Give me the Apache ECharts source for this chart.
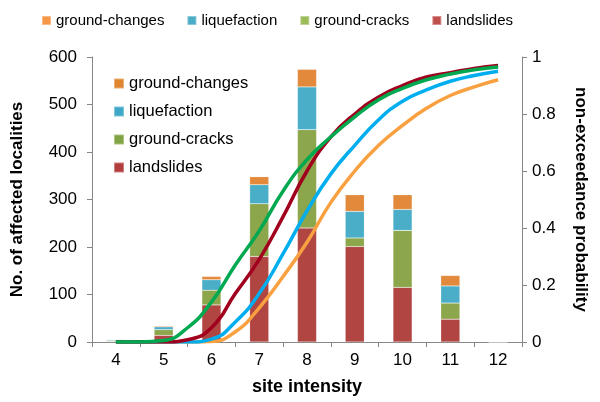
<!DOCTYPE html>
<html><head><meta charset="utf-8">
<script src="https://cdn.jsdelivr.net/npm/echarts@6/dist/echarts.min.js"></script>
<style>html,body{margin:0;padding:0;background:#fff}#c{width:600px;height:402px}</style>
</head><body><div id="c"></div>
<script>
var categories = ['4','5','6','7','8','9','10','11','12'];
var landslides   = [1, 14, 78, 180, 240, 201, 115, 48, 0];
var groundCracks = [2, 12, 31, 111, 207, 18, 120, 34, 0];
var liquefaction = [2, 6, 22, 40, 90, 56, 44, 36, 0];
var groundChanges= [0, 2, 7, 17, 37, 35, 31, 22, 0];

var curveX      = [4, 4.5, 5, 5.5, 6, 6.5, 7, 7.5, 8, 8.5, 9, 9.5, 10, 10.5, 11, 11.5, 12];
var cdfCracks   = [0, 0, 0.005, 0.05, 0.14, 0.27, 0.39, 0.53, 0.64, 0.72, 0.79, 0.85, 0.89, 0.92, 0.94, 0.955, 0.965];
var cdfSlides   = [0, 0, 0, 0.008, 0.05, 0.17, 0.29, 0.44, 0.60, 0.72, 0.80, 0.86, 0.90, 0.93, 0.945, 0.96, 0.97];
var cdfLiq      = [0, 0, 0, 0, 0.01, 0.07, 0.17, 0.31, 0.46, 0.59, 0.69, 0.78, 0.845, 0.885, 0.915, 0.935, 0.95];
var cdfChanges  = [0, 0, 0, 0, 0.002, 0.036, 0.12, 0.23, 0.35, 0.49, 0.60, 0.69, 0.76, 0.82, 0.865, 0.895, 0.92];

var leftTicks = ['0','100','200','300','400','500','600'];
var rightTicks = ['0','0.2','0.4','0.6','0.8','1'];

function pts(ys){ return curveX.map(function(x,i){ return [x, ys[i]]; }); }

var font = 'Liberation Sans, Arial, sans-serif';
var barCol = {ls:'#b04542', gc:'#8ca64c', lq:'#4aaec9', ch:'#e3893b'};
var axisGray = '#868686';

var chart = echarts.init(document.getElementById('c'), null, {renderer:'canvas'});
function barSeries(name, data, color){
  return {name:name, type:'bar', stack:'s', xAxisIndex:0, yAxisIndex:0, data:data,
    barWidth:'40%', itemStyle:{color:color, borderColor:'rgba(255,255,255,0.35)', borderWidth:0.5}, z:2};
}
function lineSeries(name, ys, color){
  return {name:name, type:'line', xAxisIndex:1, yAxisIndex:1, data:pts(ys), smooth:0.5,
    showSymbol:false, symbol:'none', lineStyle:{color:color, width:3.5}, z:5, silent:true};
}
chart.setOption({
  animation:false,
  textStyle:{fontFamily:font},
  grid:{left:92, right:78, top:57, bottom:60, containLabel:false, outerBoundsMode:'none'},
  legend:[
    {top:8, left:36, itemWidth:9, itemHeight:9, itemGap:22, icon:'rect',
     textStyle:{fontSize:15, color:'#000', fontFamily:font},
     data:[{name:'ground-changes', itemStyle:{color:'#f79646'}},
           {name:'liquefaction', itemStyle:{color:'#4bacc6'}},
           {name:'ground-cracks', itemStyle:{color:'#9bbb59'}},
           {name:'landslides', itemStyle:{color:'#c0504d'}}]},
    {orient:'vertical', top:70, left:108, itemWidth:10, itemHeight:10, itemGap:11, icon:'rect',
     textStyle:{fontSize:16.5, color:'#000', fontFamily:font},
     data:[{name:'ground-changes', itemStyle:{color:'#e08530'}},
           {name:'liquefaction', itemStyle:{color:'#3fa8c8'}},
           {name:'ground-cracks', itemStyle:{color:'#80a443'}},
           {name:'landslides', itemStyle:{color:'#b33c3c'}}]}
  ],
  xAxis:[
    {type:'category', data:categories, boundaryGap:true,
     name:'site intensity', nameLocation:'middle', nameGap:36,
     nameTextStyle:{fontSize:18, fontWeight:'bold', color:'#000', fontFamily:font},
     axisLine:{lineStyle:{color:axisGray, width:1}},
     axisTick:{show:true, length:5, lineStyle:{color:axisGray}},
     axisLabel:{fontSize:17, color:'#000', margin:10, fontFamily:font},
     splitLine:{show:false}},
    {type:'value', min:3.5, max:12.5, show:false}
  ],
  yAxis:[
    {type:'value', min:0, max:600, interval:100, position:'left',
     name:'No. of affected localities', nameLocation:'middle', nameGap:66, nameRotate:90,
     nameTextStyle:{fontSize:17, fontWeight:'bold', color:'#000', fontFamily:font},
     axisLine:{show:true, lineStyle:{color:axisGray}},
     axisTick:{show:true, length:5, lineStyle:{color:axisGray}},
     axisLabel:{fontSize:17, color:'#000', margin:15, fontFamily:font,
       formatter:function(v){ return leftTicks[Math.round(v/100)]; }},
     splitLine:{show:false}},
    {type:'value', min:0, max:1, interval:0.2, position:'right',
     name:'non-exceedance probability', nameLocation:'middle', nameGap:50, nameRotate:-90,
     nameTextStyle:{fontSize:17, fontWeight:'bold', color:'#000', fontFamily:font},
     axisLine:{show:true, lineStyle:{color:axisGray}},
     axisTick:{show:true, length:5, lineStyle:{color:axisGray}},
     axisLabel:{fontSize:17, color:'#000', margin:10, fontFamily:font,
       formatter:function(v){ return rightTicks[Math.round(v*5)]; }},
     splitLine:{show:false}}
  ],
  series:[
    barSeries('landslides', landslides, barCol.ls),
    barSeries('ground-cracks', groundCracks, barCol.gc),
    barSeries('liquefaction', liquefaction, barCol.lq),
    barSeries('ground-changes', groundChanges, barCol.ch),
    lineSeries('cdf ground-changes', cdfChanges, '#f9a040'),
    lineSeries('cdf liquefaction', cdfLiq, '#00aeef'),
    lineSeries('cdf landslides', cdfSlides, '#a0001e'),
    lineSeries('cdf ground-cracks', cdfCracks, '#00a84f')
  ]
});
</script></body></html>
